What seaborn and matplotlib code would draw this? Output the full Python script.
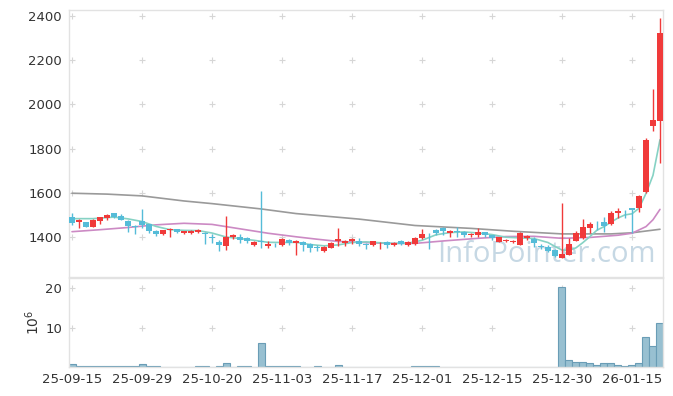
import numpy as np
import pandas as pd
import matplotlib
matplotlib.use("Agg")
import matplotlib.pyplot as plt
import seaborn as sns

# ---------------- data ----------------
tick_labels = ["25-09-15", "25-09-29", "25-10-20", "25-11-03", "25-11-17",
               "25-12-01", "25-12-15", "25-12-30", "26-01-15"]

opens = [1490, 1470, 1467, 1447, 1474, 1485, 1509, 1495, 1472, 1451,
         1472, 1457, 1428, 1414, 1431, 1436, 1416, 1419, 1424, 1420,
         1401, 1379, 1361, 1398, 1401, 1394, 1365, 1380, 1360, 1366,
         1362, 1386, 1372, 1377, 1370, 1355, 1335, 1352, 1383, 1373,
         1384, 1380, 1370, 1364, 1372, 1377, 1363, 1382, 1365, 1368,
         1395, 1414, 1430, 1440, 1420, 1428, 1423, 1407, 1410, 1421,
         1408, 1379, 1384, 1378, 1365, 1397, 1390, 1359, 1353, 1341,
         1307, 1320, 1384, 1395, 1441, 1470, 1469, 1458, 1507, 1518,
         1530, 1530, 1605, 1900, 1926]
highs = [1510, 1480, 1468, 1480, 1490, 1502, 1510, 1505, 1475, 1455,
         1525, 1460, 1430, 1432, 1440, 1438, 1428, 1432, 1436, 1423,
         1415, 1385, 1497, 1413, 1415, 1400, 1383, 1608, 1380, 1372,
         1395, 1390, 1385, 1380, 1372, 1362, 1360, 1376, 1440, 1385,
         1395, 1395, 1373, 1382, 1378, 1380, 1378, 1388, 1382, 1400,
         1435, 1418, 1437, 1445, 1430, 1445, 1426, 1420, 1440, 1424,
         1410, 1400, 1393, 1388, 1422, 1407, 1400, 1368, 1363, 1345,
         1555, 1395, 1425, 1481, 1470, 1473, 1492, 1518, 1530, 1522,
         1532, 1588, 1848, 2068, 2390]
lows = [1455, 1440, 1445, 1445, 1458, 1478, 1488, 1475, 1422, 1412,
        1440, 1420, 1405, 1410, 1402, 1420, 1412, 1415, 1417, 1367,
        1375, 1335, 1340, 1390, 1372, 1372, 1360, 1350, 1350, 1355,
        1358, 1365, 1320, 1335, 1334, 1335, 1330, 1348, 1357, 1358,
        1370, 1358, 1345, 1358, 1347, 1352, 1358, 1363, 1360, 1365,
        1390, 1346, 1410, 1408, 1402, 1402, 1402, 1400, 1402, 1400,
        1385, 1376, 1376, 1372, 1362, 1388, 1355, 1347, 1333, 1308,
        1305, 1318, 1383, 1393, 1420, 1430, 1422, 1455, 1488, 1488,
        1418, 1512, 1600, 1878, 1736]
closes = [1465, 1478, 1447, 1477, 1489, 1500, 1490, 1478, 1448, 1443,
          1455, 1425, 1413, 1430, 1438, 1424, 1426, 1427, 1433, 1413,
          1395, 1362, 1401, 1409, 1387, 1380, 1379, 1377, 1368, 1363,
          1390, 1372, 1382, 1365, 1350, 1351, 1356, 1372, 1392, 1380,
          1392, 1369, 1364, 1380, 1375, 1363, 1375, 1368, 1379, 1396,
          1415, 1412, 1420, 1425, 1428, 1421, 1410, 1415, 1424, 1410,
          1397, 1398, 1387, 1381, 1420, 1404, 1372, 1354, 1338, 1312,
          1323, 1367, 1417, 1445, 1459, 1467, 1448, 1507, 1519, 1516,
          1524, 1586, 1839, 1928, 2324]
volume_mil = [0.73, 0.2, 0.2, 0.2, 0.2, 0.2, 0.2, 0.2, 0.2, 0.2,
              0.73, 0.2, 0.2, 0.02, 0.02, 0.02, 0.02, 0.02, 0.2, 0.2,
              0.02, 0.2, 1.0, 0.02, 0.2, 0.2, 0.02, 6.0, 0.35, 0.2,
              0.2, 0.2, 0.2, 0.02, 0.02, 0.2, 0.02, 0.02, 0.4, 0.02,
              0.02, 0.02, 0.02, 0.02, 0.02, 0.02, 0.02, 0.02, 0.02, 0.2,
              0.2, 0.2, 0.2, 0.02, 0.02, 0.02, 0.02, 0.02, 0.02, 0.02,
              0.02, 0.02, 0.02, 0.02, 0.02, 0.02, 0.02, 0.02, 0.02, 0.02,
              20.4, 1.9, 1.15, 1.15, 0.9, 0.4, 0.9, 0.9, 0.4, 0.15,
              0.4, 0.9, 7.5, 5.45, 11.3]

# moving-average lines, read at sampled bar indices
ma5_idx = [0, 3, 6, 8, 10, 12, 14, 16, 18, 20, 22, 24, 26, 28, 30, 32, 34, 36,
           38, 40, 42, 44, 46, 48, 50, 52, 54, 56, 58, 60, 62, 64, 66, 68, 69,
           70, 71, 72, 73, 74, 75, 76, 77, 78, 79, 80, 81, 82, 83, 84]
ma5_val = [1483, 1483, 1490, 1482, 1470, 1448, 1433, 1430, 1429, 1418, 1400,
           1393, 1385, 1376, 1375, 1376, 1366, 1360, 1364, 1375, 1378, 1374,
           1371, 1372, 1385, 1410, 1420, 1423, 1418, 1411, 1399, 1396, 1393,
           1375, 1357, 1341, 1340, 1351, 1375, 1402, 1431, 1447, 1467, 1486,
           1500, 1505, 1530, 1597, 1679, 1840]
ma20_idx = [0, 4, 8, 12, 16, 20, 23, 25, 28, 32, 35, 38, 41, 45, 49, 53, 58,
            62, 66, 70, 74, 78, 80, 82, 83, 84]
ma20_val = [1424, 1433, 1443, 1455, 1462, 1457, 1442, 1432, 1417, 1401, 1390,
            1380, 1376, 1371, 1371, 1382, 1394, 1402, 1403, 1394, 1398, 1408,
            1417, 1447, 1478, 1525]
ma60_idx = [0, 5, 10, 16, 20, 27, 32, 41, 49, 57, 63, 70, 77, 80, 84]
ma60_val = [1598, 1594, 1586, 1563, 1551, 1527, 1506, 1481, 1452, 1439, 1426,
            1414, 1414, 1419, 1435]

# ---------------- style ----------------
sns.set_theme(style="white")
plt.rcParams['font.family'] = ['DejaVu Sans']

UP = "#f03a3a"
DOWN = "#55bcd8"
TXT = "#333333"
SPINE = "#e2e2e2"

idx = np.arange(len(closes))
df = pd.DataFrame({"i": idx, "o": opens, "h": highs, "l": lows, "c": closes,
                   "v": volume_mil})
df["up"] = df["c"] >= df["o"]
df["col"] = np.where(df["up"], UP, DOWN)
df["bot"] = df[["o", "c"]].min(axis=1)
df["hgt"] = (df["c"] - df["o"]).abs().clip(lower=3)

fig = plt.figure(figsize=(6.73, 3.96), dpi=100)
axp = fig.add_axes([69 / 673, 1 - 277 / 396, 594 / 673, 267 / 396])
axv = fig.add_axes([69 / 673, 1 - 367 / 396, 594 / 673, 89 / 396])

# ---- price panel ----
sns.lineplot(x=ma60_idx, y=ma60_val, ax=axp, color="#9a9a9a", linewidth=1.2, zorder=1.5)
sns.lineplot(x=ma20_idx, y=ma20_val, ax=axp, color="#cc8ac4", linewidth=1.2, zorder=1.5)
sns.lineplot(x=ma5_idx, y=ma5_val, ax=axp, color="#86d2c4", linewidth=1.2, zorder=1.5)

axp.vlines(df["i"], df["l"], df["h"], colors=df["col"], linewidth=1.0, zorder=2)
axp.bar(df["i"], df["hgt"], bottom=df["bot"], width=0.72, color=df["col"],
        linewidth=0, zorder=3)

xmin, xmax = -0.43, len(closes) - 1 + 0.43
xt = np.arange(0, len(closes), 10)
axp.set_xlim(xmin, xmax)
axp.set_ylim(1219, 2427)
yt = np.arange(1400, 2401, 200)
axp.set_yticks(yt)
axp.set_yticklabels([str(v) for v in yt])
axp.set_xticks(xt)
axp.tick_params(axis="x", labelbottom=False, length=0)
axp.tick_params(axis="y", length=0, pad=5, labelsize=9.5, labelcolor=TXT)
gx, gy = np.meshgrid(xt, yt)
axp.scatter(gx.ravel(), gy.ravel(), marker="+", s=22, color="#d6d6d6",
            linewidths=0.8, zorder=0.5)
axp.text(0.803, 0.085, "InfoPointer.com", transform=axp.transAxes,
         ha="center", va="center", fontsize=21, color="#c6d8e4",
         family=["Open Sans", "DejaVu Sans"], zorder=1)
axp.set_xlabel("")
axp.set_ylabel("")

# ---- volume panel ----
sns.barplot(x=df["i"], y=df["v"], ax=axv, native_scale=True, width=1.0,
            color="#98c0d1", saturation=1, edgecolor="#6a9db6", linewidth=0.8,
            zorder=2)
axv.set_xlim(xmin, xmax)
axv.set_ylim(0, 22.6)
axv.set_xticks(xt)
axv.set_xticklabels(tick_labels)
axv.set_yticks([10, 20])
axv.set_yticklabels(["10", "20"])
axv.tick_params(axis="x", length=0, pad=4, labelsize=9.5, labelcolor=TXT)
axv.tick_params(axis="y", length=0, pad=5, labelsize=9.5, labelcolor=TXT)
gx2, gy2 = np.meshgrid(xt, [10, 20])
axv.scatter(gx2.ravel(), gy2.ravel(), marker="+", s=22, color="#d6d6d6",
            linewidths=0.8, zorder=0.5)
axv.set_xlabel("")
axv.set_ylabel(r"$\mathregular{10^6}$", fontsize=10, color=TXT, labelpad=2)

for ax in (axp, axv):
    for s in ax.spines.values():
        s.set_color(SPINE)
        s.set_linewidth(1.0)

fig.savefig("out.png", dpi=100, facecolor="white")
